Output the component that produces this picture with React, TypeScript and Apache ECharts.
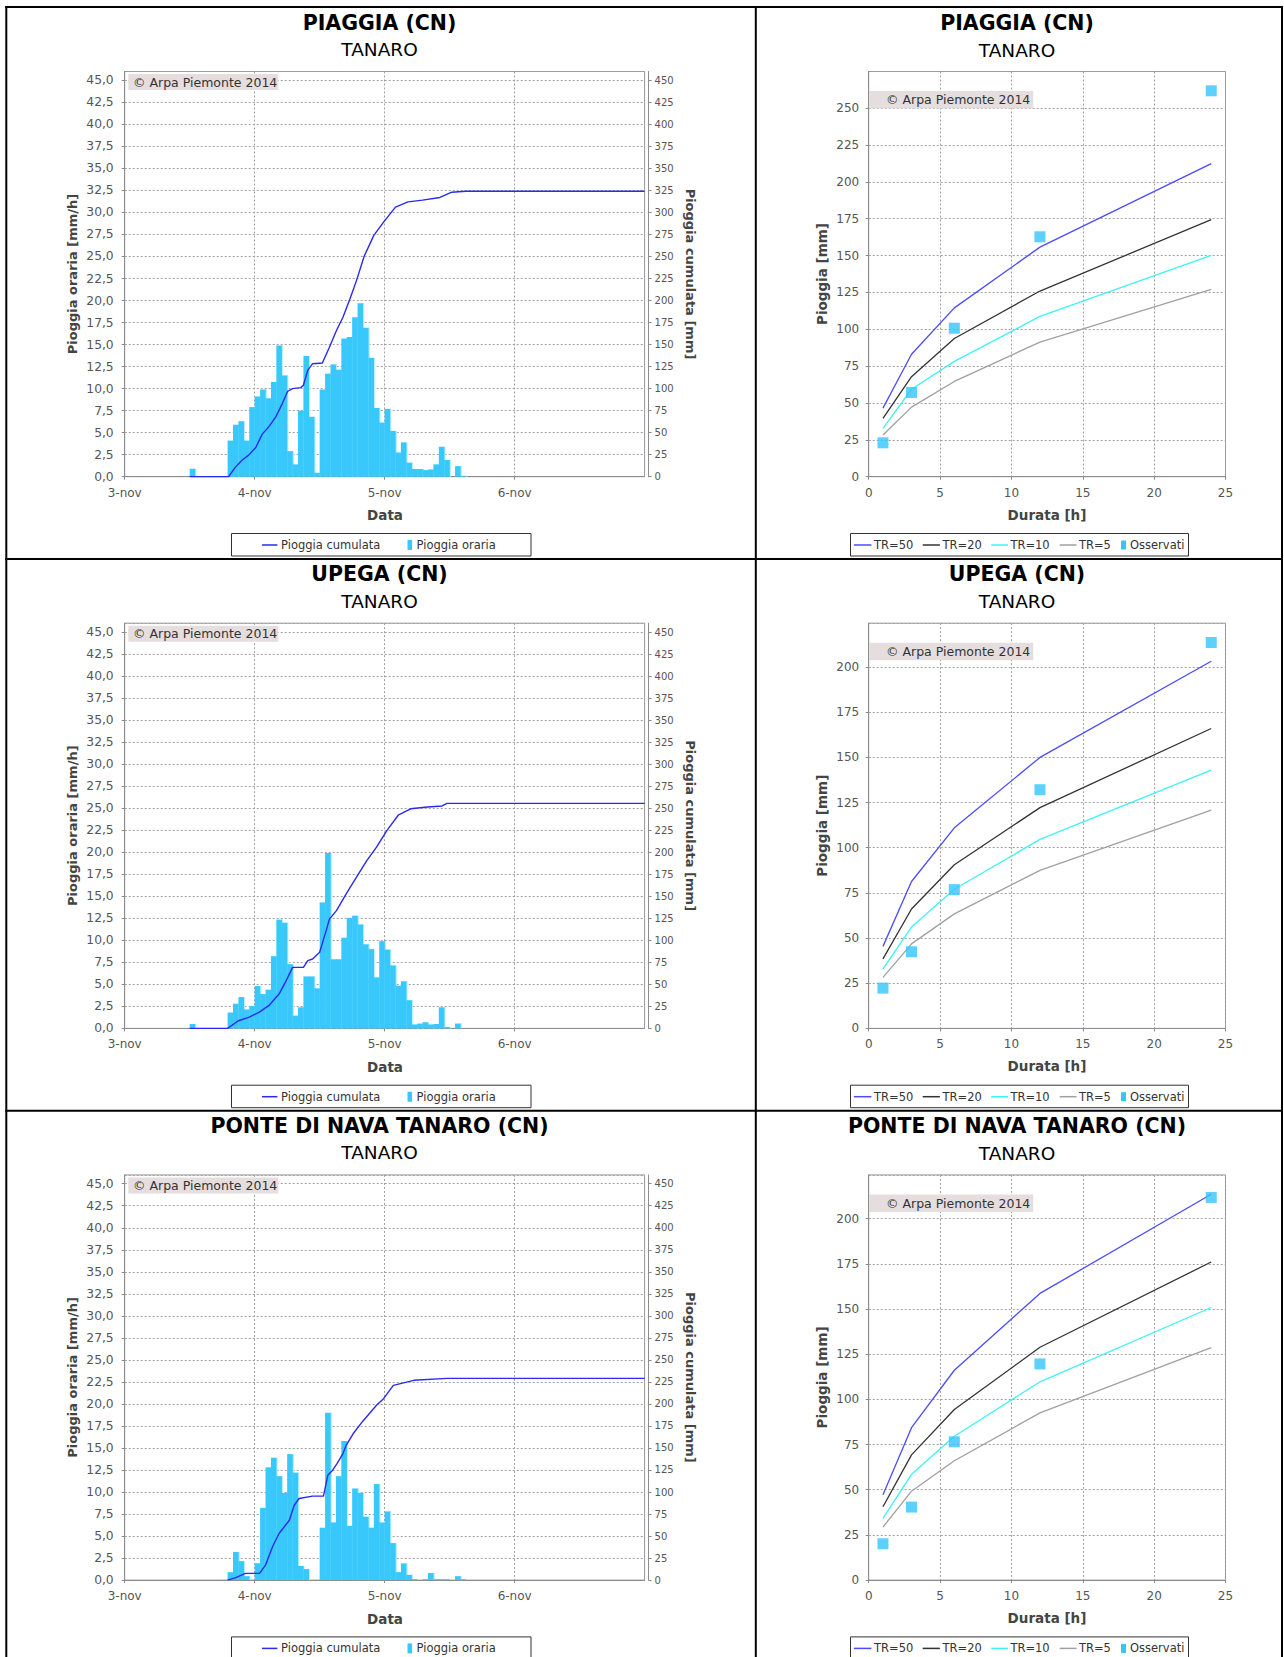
import React, { useEffect, useRef } from 'react';
import * as echarts from 'echarts';

// ---------- DATA ----------
const STATIONS = ['PIAGGIA (CN)', 'UPEGA (CN)', 'PONTE DI NAVA TANARO (CN)'];
const BASIN = 'TANARO';
const DAY_LABELS = ['3-nov', '4-nov', '5-nov', '6-nov', '7-nov'];
const DURATION_TICKS = [0, 5, 10, 15, 20, 25];

// hourly rain (mm/h); first value is at hour START (hours since 3-nov 00:00)
const PIAGGIA_START = 12;
const PIAGGIA_HOURLY = [0.9, 0, 0, 0, 0, 0, 0,
  4.1, 5.9, 6.3, 4.1, 7.9,
  9.1, 9.9, 8.9, 10.75, 14.9, 11.5, 2.9, 1.4, 7.5, 13.7, 6.8, 0.45,
  9.9, 11.7, 12.75, 12.15, 15.7, 15.85, 18.1, 19.7, 16.9, 13.5, 7.8, 6.15,
  7.7, 5.2, 2.75, 3.9, 1.6, 0.87, 0.87, 0.75, 0.83, 1.4, 3.4, 1.9, 0, 1.2, 0.1];
const UPEGA_START = 12;
const UPEGA_HOURLY = [0.5, 0, 0, 0, 0, 0, 0,
  1.8, 2.8, 3.55, 2.15, 2.55,
  4.8, 3.9, 4.4, 8.2, 12.35, 12.0, 7.3, 1.45, 2.4, 5.9, 5.9, 4.55,
  14.3, 19.9, 7.85, 7.85, 10.3, 12.55, 12.8, 11.8, 9.55, 9.0, 5.8, 9.9,
  8.95, 7.15, 4.85, 5.35, 3.2, 0.45, 0.55, 0.7, 0.45, 0.5, 2.4, 0.15, 0, 0.55];
const PONTE_START = 19;
const PONTE_HOURLY = [0.9, 3.2, 2.15, 0.45, 0,
  1.9, 8.2, 12.8, 13.9, 11.8, 9.9, 14.3, 12.2, 1.6, 1.25, 0, 0,
  5.95, 19.0, 6.55, 11.8, 15.8, 6.15, 10.4, 9.9, 7.2, 5.95, 10.9, 6.55,
  7.8, 4.2, 0.9, 1.9, 0.6, 0.1, 0, 0.1, 0.8, 0.1, 0.1, 0.1, 0, 0.45, 0.1];

// cumulative rain (mm) as [hour, value]
const PIAGGIA_CUM = [[12, 0], [19.2, 0], [20.4, 10.6], [21.7, 18.9], [22.9, 24.5], [24.2, 33.2], [25.4, 48.3],
  [26.6, 56.6], [27.9, 67.9], [29.1, 83], [30.1, 97], [31, 100], [32.5, 101.1], [33, 103.8], [33.8, 120.8],
  [34.7, 128.3], [36.5, 129], [37.8, 147], [39.1, 166], [40.3, 181], [41.6, 201.9], [42.8, 222.6], [44.2, 250],
  [46, 274], [47.8, 289], [50, 306], [52.3, 312], [55, 314], [58.2, 317], [60.4, 323], [63, 324], [96, 324]];
const UPEGA_CUM = [[12, 0], [19, 0], [21, 8.7], [22.9, 12.5], [24.8, 18.2], [26.6, 25.8], [28.5, 39], [29.8, 54],
  [31, 69.3], [33, 69.3], [33.8, 76.9], [34.7, 78.8], [36, 86.4], [37.2, 111], [37.8, 124], [39.1, 133.7],
  [40.9, 152.7], [42.8, 171.6], [44.7, 190.5], [46.5, 205.7], [48.4, 224.6], [50.5, 242], [52.8, 249.3],
  [55.9, 251.3], [58.6, 252.5], [59.5, 255.5], [96, 255.5]];
const PONTE_CUM = [[19, 0], [20.4, 2.6], [22.3, 7.6], [24.9, 7.6], [26, 17], [27.3, 37.8], [28.5, 52.9],
  [30.4, 68], [31.3, 85], [32.2, 92.6], [34.7, 95.3], [36.7, 95.3], [37.5, 119], [38.4, 124.8], [39.2, 132.3],
  [40.3, 143.7], [40.9, 153], [42.2, 166.4], [44, 180.7], [46.5, 198.5], [47.8, 206], [49.6, 221],
  [53.4, 226.8], [59.5, 229], [96, 229]];

// depth-duration curves (mm) for durations
const DURATIONS = [1, 3, 6, 12, 24];
const TR_NAMES = ['TR=50', 'TR=20', 'TR=10', 'TR=5'];
const PIAGGIA_TR50 = [46.5, 83, 114.5, 155.7, 212.3];
const PIAGGIA_TR20 = [39.5, 67.8, 93.7, 125.9, 174.3];
const PIAGGIA_TR10 = [32.7, 59.3, 78.2, 108.7, 150.1];
const PIAGGIA_TR5 = [28.3, 47.2, 64.6, 91.3, 127.1];
const PIAGGIA_OBS = [23, 57.1, 100.7, 162.7, 261.7];
const UPEGA_TR50 = [45.4, 81.3, 111, 150, 203.2];
const UPEGA_TR20 = [38.5, 66.1, 90.6, 122.2, 166];
const UPEGA_TR10 = [33, 56.1, 77, 104.6, 143];
const UPEGA_TR5 = [28.2, 46.8, 63.4, 87.5, 120.8];
const UPEGA_OBS = [22.3, 42.4, 76.8, 132.1, 213.6];
const PONTE_TR50 = [47.2, 84.3, 116.1, 158.6, 213.5];
const PONTE_TR20 = [40.6, 69.3, 94.4, 128.8, 176];
const PONTE_TR10 = [34.1, 58.5, 79.6, 109.7, 150.8];
const PONTE_TR5 = [29.3, 49.2, 66, 92.5, 128.6];
const PONTE_OBS = [20.1, 40.4, 76.5, 119.6, 211.7];

const HOURLY_STARTS = [PIAGGIA_START, UPEGA_START, PONTE_START];
const HOURLY = [PIAGGIA_HOURLY, UPEGA_HOURLY, PONTE_HOURLY];
const CUMULATIVE = [PIAGGIA_CUM, UPEGA_CUM, PONTE_CUM];
const TR_CURVES = [
  [PIAGGIA_TR50, PIAGGIA_TR20, PIAGGIA_TR10, PIAGGIA_TR5],
  [UPEGA_TR50, UPEGA_TR20, UPEGA_TR10, UPEGA_TR5],
  [PONTE_TR50, PONTE_TR20, PONTE_TR10, PONTE_TR5],
];
const OBSERVED = [PIAGGIA_OBS, UPEGA_OBS, PONTE_OBS];

// ---------- STYLE ----------
const FONT = 'DejaVu Sans';
const BAR_COLOR = '#38C8FC';
const BAR_EDGE = '#B8F0FF';
const CUM_COLOR = '#2A2AEE';
const TR_COLORS = ['#4B4BFF', '#333333', '#3CF4F4', '#A0A0A0'];
const OBS_COLOR = '#33C6FC';
const GRID_LINE = { color: '#a0a0a0', type: [2, 2] as any, width: 1 };
const AXIS_COLOR = '#8c8c8c';
const LABEL_COLOR = '#555';
const NAME_COLOR = '#444';

const ROW_PITCH = 551.7;
const ROWS = [0, 1, 2];

function txt(text: string, x: number, y: number, size: number, opts: any = {}) {
  return {
    type: 'text',
    x, y,
    rotation: opts.rotation || 0,
    z: 100,
    style: {
      text,
      fill: opts.color || '#000',
      fontSize: size,
      fontFamily: FONT,
      fontWeight: opts.bold ? 'bold' : 'normal',
      align: opts.align || 'center',
      verticalAlign: 'middle',
      textAlign: opts.align || 'center',
      textVerticalAlign: 'middle',
    },
  };
}
function hline(x1: number, x2: number, y: number, color: string, w: number) {
  return { type: 'line', z: 100, shape: { x1, y1: y, x2, y2: y }, style: { stroke: color, lineWidth: w } };
}
function box(x: number, y: number, width: number, height: number, style: any) {
  return { type: 'rect', z: 99, shape: { x, y, width, height }, style };
}

function buildOption() {
  const grid: any[] = [];
  const xAxis: any[] = [];
  const yAxis: any[] = [];
  const series: any[] = [];
  const graphic: any[] = [];

  const axisCommon = {
    axisLine: { show: true, lineStyle: { color: AXIS_COLOR, width: 1 } },
    axisTick: { show: true, length: 3, lineStyle: { color: AXIS_COLOR } },
  };

  ROWS.forEach((r) => {
    const R = r * ROW_PITCH;
    const gL = 2 * r, gR = 2 * r + 1;
    const yL = 3 * r, yLR = 3 * r + 1, yRR = 3 * r + 2;

    grid.push({ left: 124.7, top: 71.5 + R, width: 519.9, height: 405.2, show: true, borderColor: '#999', borderWidth: 1, backgroundColor: '#fff' });
    grid.push({ left: 868.7, top: 71.5 + R, width: 356.8, height: 405.2, show: true, borderColor: '#999', borderWidth: 1, backgroundColor: '#fff' });

    xAxis.push({
      type: 'value', gridIndex: gL, position: 'bottom', offset: 4, min: 0, max: 96, interval: 24,
      ...axisCommon,
      axisLabel: { fontFamily: FONT, fontSize: 12, color: LABEL_COLOR, margin: 6, showMaxLabel: false,
        formatter: (v: number) => DAY_LABELS[Math.round(v / 24)] },
      splitLine: { show: true, lineStyle: GRID_LINE },
    });
    const obsMax = Math.max(...OBSERVED[r], ...TR_CURVES[r].map((c) => Math.max(...c)));
    xAxis.push({
      type: 'value', gridIndex: gR, position: 'bottom', offset: 4, min: 0, max: 25, interval: 5,
      ...axisCommon,
      axisLabel: { fontFamily: FONT, fontSize: 12, color: LABEL_COLOR, margin: 6,
        formatter: (v: number) => (DURATION_TICKS.includes(v) ? String(v) : '') },
      splitLine: { show: true, lineStyle: GRID_LINE },
    });

    yAxis.push({
      type: 'value', gridIndex: gL, position: 'left', offset: 4, min: 0, max: 46, interval: 2.5,
      ...axisCommon,
      axisLabel: { fontFamily: FONT, fontSize: 12.3, color: LABEL_COLOR, margin: 7, showMaxLabel: false,
        formatter: (v: number) => v.toFixed(1).replace('.', ',') },
      splitLine: { show: true, lineStyle: GRID_LINE },
    });
    yAxis.push({
      type: 'value', gridIndex: gL, position: 'right', offset: 4, min: 0, max: 460, interval: 25,
      ...axisCommon,
      axisLabel: { fontFamily: FONT, fontSize: 10, color: LABEL_COLOR, margin: 6, showMaxLabel: false },
      splitLine: { show: false },
    });
    yAxis.push({
      type: 'value', gridIndex: gR, position: 'left', offset: 4, min: 0, max: obsMax * 1.05, interval: 25,
      ...axisCommon,
      axisLabel: { fontFamily: FONT, fontSize: 12, color: LABEL_COLOR, margin: 5.5, showMaxLabel: false },
      splitLine: { show: true, lineStyle: GRID_LINE },
    });

    // hourly bars (each bar slightly overlaps the next one so the mass looks solid;
    // a pale highlight strip stays visible only where the next bar is lower)
    series.push({
      type: 'custom', name: 'Pioggia oraria', xAxisIndex: gL, yAxisIndex: yL, z: 2,
      data: HOURLY[r].map((v, i) => [HOURLY_STARTS[r] + i, v]),
      encode: { x: 0, y: 1 },
      renderItem: (params: any, api: any) => {
        const h = api.value(0);
        const v = api.value(1);
        if (!v) return { type: 'group', children: [] };
        const a = api.coord([h, 0]);
        const b = api.coord([h + 1, v]);
        const w = b[0] - a[0];
        const hh = a[1] - b[1];
        return {
          type: 'group',
          children: [
            { type: 'rect', shape: { x: a[0], y: b[1], width: w + 0.8, height: hh }, style: { fill: BAR_COLOR } },
            { type: 'rect', shape: { x: b[0] + 0.2, y: b[1], width: 1.1, height: hh }, style: { fill: BAR_EDGE } },
          ],
        };
      },
    });
    // cumulative line
    series.push({
      type: 'line', name: 'Pioggia cumulata', xAxisIndex: gL, yAxisIndex: yLR, z: 4,
      data: CUMULATIVE[r], showSymbol: false, symbol: 'none',
      lineStyle: { color: CUM_COLOR, width: 1.4 },
    });
    // TR curves
    TR_CURVES[r].forEach((curve, k) => {
      series.push({
        type: 'line', name: TR_NAMES[k], xAxisIndex: gR, yAxisIndex: yRR, z: 3,
        data: DURATIONS.map((d, i) => [d, curve[i]]), showSymbol: false, symbol: 'none',
        lineStyle: { color: TR_COLORS[k], width: 1.3 },
      });
    });
    series.push({
      type: 'scatter', name: 'Osservati', xAxisIndex: gR, yAxisIndex: yRR, z: 5,
      data: DURATIONS.map((d, i) => [d, OBSERVED[r][i]]), symbol: 'rect', symbolSize: 11,
      itemStyle: { color: OBS_COLOR },
    });

    // titles
    graphic.push(txt(STATIONS[r], 379.5, 22.5 + R, 20.5, { bold: true }));
    graphic.push(txt(BASIN, 379.5, 49.5 + R, 18.5));
    graphic.push(txt(STATIONS[r], 1017, 22.5 + R, 20.5, { bold: true }));
    graphic.push(txt(BASIN, 1017, 50 + R, 18.5));

    // axis names
    graphic.push(txt('Pioggia oraria [mm/h]', 72.7, 274 + R, 13, { bold: true, color: NAME_COLOR, rotation: Math.PI / 2 }));
    graphic.push(txt('Pioggia cumulata [mm]', 690, 274 + R, 13, { bold: true, color: NAME_COLOR, rotation: -Math.PI / 2 }));
    graphic.push(txt('Data', 385, 515.4 + R, 13.5, { bold: true, color: NAME_COLOR }));
    graphic.push(txt('Pioggia [mm]', 821.6, 274 + R, 13.5, { bold: true, color: NAME_COLOR, rotation: Math.PI / 2 }));
    graphic.push(txt('Durata [h]', 1047, 514.5 + R, 13.5, { bold: true, color: NAME_COLOR }));

    // copyright boxes
    graphic.push(box(128.3, 74 + R, 150, 16, { fill: '#E6DEDE' }));
    graphic.push(txt('© Arpa Piemonte 2014', 133, 82.2 + R, 12.5, { align: 'left', color: '#333' }));
    graphic.push(box(869.2, 91 + R, 164, 17.5, { fill: '#E6DEDE' }));
    graphic.push(txt('© Arpa Piemonte 2014', 886, 99.9 + R, 12.5, { align: 'left', color: '#333' }));

    // legends
    const ly = 545 + R;
    graphic.push(box(231.5, 533.5 + R, 299.5, 22.5, { fill: '#fff', stroke: '#333', lineWidth: 1 }));
    graphic.push(hline(262, 277.4, ly, CUM_COLOR, 1.5));
    graphic.push(txt('Pioggia cumulata', 281, ly, 11.5, { align: 'left', color: '#333' }));
    graphic.push({ ...box(407.5, ly - 5, 4.6, 10, { fill: BAR_COLOR }), z: 100 });
    graphic.push(txt('Pioggia oraria', 416.5, ly, 11.5, { align: 'left', color: '#333' }));

    graphic.push(box(850.5, 533.5 + R, 338, 22.5, { fill: '#fff', stroke: '#333', lineWidth: 1 }));
    const lx = [[853.9, 871.4, 874.1], [922.7, 939.9, 942.6], [991.2, 1008, 1010.4], [1059.7, 1076.5, 1078.9]];
    lx.forEach((p, k) => {
      graphic.push(hline(p[0], p[1], ly, TR_COLORS[k], 1.5));
      graphic.push(txt(TR_NAMES[k], p[2], ly, 11.5, { align: 'left', color: '#333' }));
    });
    graphic.push({ ...box(1121, ly - 4.5, 5, 9, { fill: OBS_COLOR }), z: 100 });
    graphic.push(txt('Osservati', 1130, ly, 11.5, { align: 'left', color: '#333' }));
  });

  // panel borders
  const B = '#000';
  graphic.push({ type: 'line', z: 101, shape: { x1: 6.3, y1: 6, x2: 6.3, y2: 1670 }, style: { stroke: B, lineWidth: 2 } });
  graphic.push({ type: 'line', z: 101, shape: { x1: 1282, y1: 6, x2: 1282, y2: 1670 }, style: { stroke: B, lineWidth: 2 } });
  graphic.push({ type: 'line', z: 101, shape: { x1: 755.8, y1: 6, x2: 755.8, y2: 1670 }, style: { stroke: B, lineWidth: 2 } });
  graphic.push(hline(5.3, 1283, 7, B, 2));
  graphic.push(hline(5.3, 1283, 559, B, 2));
  graphic.push(hline(5.3, 1283, 1110.7, B, 2));

  return {
    animation: false,
    backgroundColor: '#fff',
    textStyle: { fontFamily: FONT },
    grid, xAxis, yAxis, series, graphic,
  };
}

export default function App() {
  const ref = useRef<HTMLDivElement>(null);
  useEffect(() => {
    if (!ref.current) return;
    const chart = echarts.init(ref.current, null, { renderer: 'svg' });
    chart.setOption(buildOption() as any);
    return () => chart.dispose();
  }, []);
  return (
    <div
      ref={ref}
      style={{ position: 'absolute', left: 0, top: 0, width: 1284, height: 1657, background: '#fff' }}
    />
  );
}
